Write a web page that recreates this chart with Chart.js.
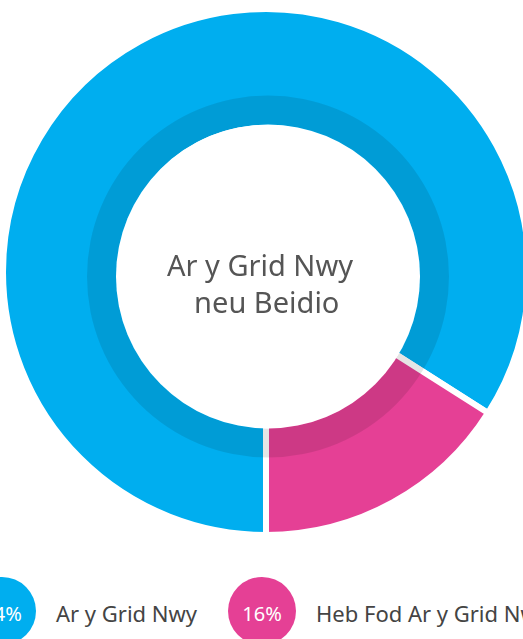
<!DOCTYPE html>
<html>
<head>
<meta charset="utf-8">
<script src="https://cdn.jsdelivr.net/npm/chart.js@4/dist/chart.umd.min.js"></script>
<style>
    html, body { margin: 0; padding: 0; background: #fff; overflow: hidden; width: 523px; height: 639px; }
    #chart-wrap { position: absolute; left: 0; top: 0; width: 532px; height: 544px; }
    #legend { position: absolute; left: 0; top: 577px; width: 523px; height: 62px; font-family: 'Noto Sans', sans-serif; }
    .legend-item { position: absolute; top: 0; display: flex; align-items: center; white-space: nowrap; }
    .legend-dot { width: 68px; height: 68px; border-radius: 50%; color: #fff; font-size: 20px; display: flex; align-items: center; justify-content: center; padding-top: 4px; box-sizing: border-box; }
    .legend-label { margin-left: 20px; font-size: 22px; color: #444; padding-top: 3px; }
</style>
</head>
<body>
<div id="chart-wrap"><canvas id="gas-chart"></canvas></div>
<div id="legend"></div>
<script>
// Dane wykresu
const labels = ['Ar y Grid Nwy', 'Heb Fod Ar y Grid Nwy'];
const values = [84, 16];
const colors = ['#00AEEF', '#E54095'];
const centerLines = ['Ar y Grid Nwy', ' neu Beidio'];
const legendLeft = [-32, 228]; // pozycje elementów legendy (px)

// Ciemniejszy pierścień wokół otworu (lekko przesunięty jak cień) + tekst w środku
const innerRingPlugin = {
    id: 'innerRing',
    afterDatasetsDraw(chart) {
        const arc = chart.getDatasetMeta(0).data[0];
        if (!arc) return;
        const ctx = chart.ctx;
        const cx = arc.x + 2;
        const cy = arc.y + 4.5;
        const holeR = 152;
        ctx.save();
        ctx.beginPath();
        ctx.arc(cx, cy, holeR + 29, 0, Math.PI * 2);
        ctx.arc(cx, cy, holeR, 0, Math.PI * 2, true);
        ctx.fillStyle = 'rgba(0, 0, 0, 0.1)';
        ctx.fill();

        ctx.beginPath();
        ctx.arc(cx, cy, holeR, 0, Math.PI * 2);
        ctx.fillStyle = '#fff';
        ctx.fill();

        ctx.fillStyle = '#555';
        ctx.font = '29px "Noto Sans", sans-serif';
        ctx.textAlign = 'center';
        ctx.textBaseline = 'alphabetic';
        ctx.fillText(centerLines[0], cx - 8, cy - 0.5);
        ctx.fillText(centerLines[1], cx - 5, cy + 36.5);
        ctx.restore();
    }
};

new Chart(document.getElementById('gas-chart'), {
    type: 'doughnut',
    data: {
        labels,
        datasets: [{
            data: values,
            backgroundColor: colors,
            borderColor: '#fff',
            borderWidth: 6
        }]
    },
    options: {
        responsive: true,
        maintainAspectRatio: false,
        animation: false,
        rotation: 180,
        radius: 263,
        cutout: '54.75%',
        layout: { padding: 0 },
        plugins: {
            legend: { display: false },
            tooltip: { enabled: false }
        }
    },
    plugins: [innerRingPlugin]
});

// Legenda HTML
const legendEl = document.getElementById('legend');
labels.forEach((label, i) => {
    const item = document.createElement('div');
    item.className = 'legend-item';
    item.style.left = legendLeft[i] + 'px';
    item.innerHTML = `<div class="legend-dot" style="background:${colors[i]}">${values[i]}%</div><span class="legend-label">${label}</span>`;
    legendEl.appendChild(item);
});
</script>
</body>
</html>
